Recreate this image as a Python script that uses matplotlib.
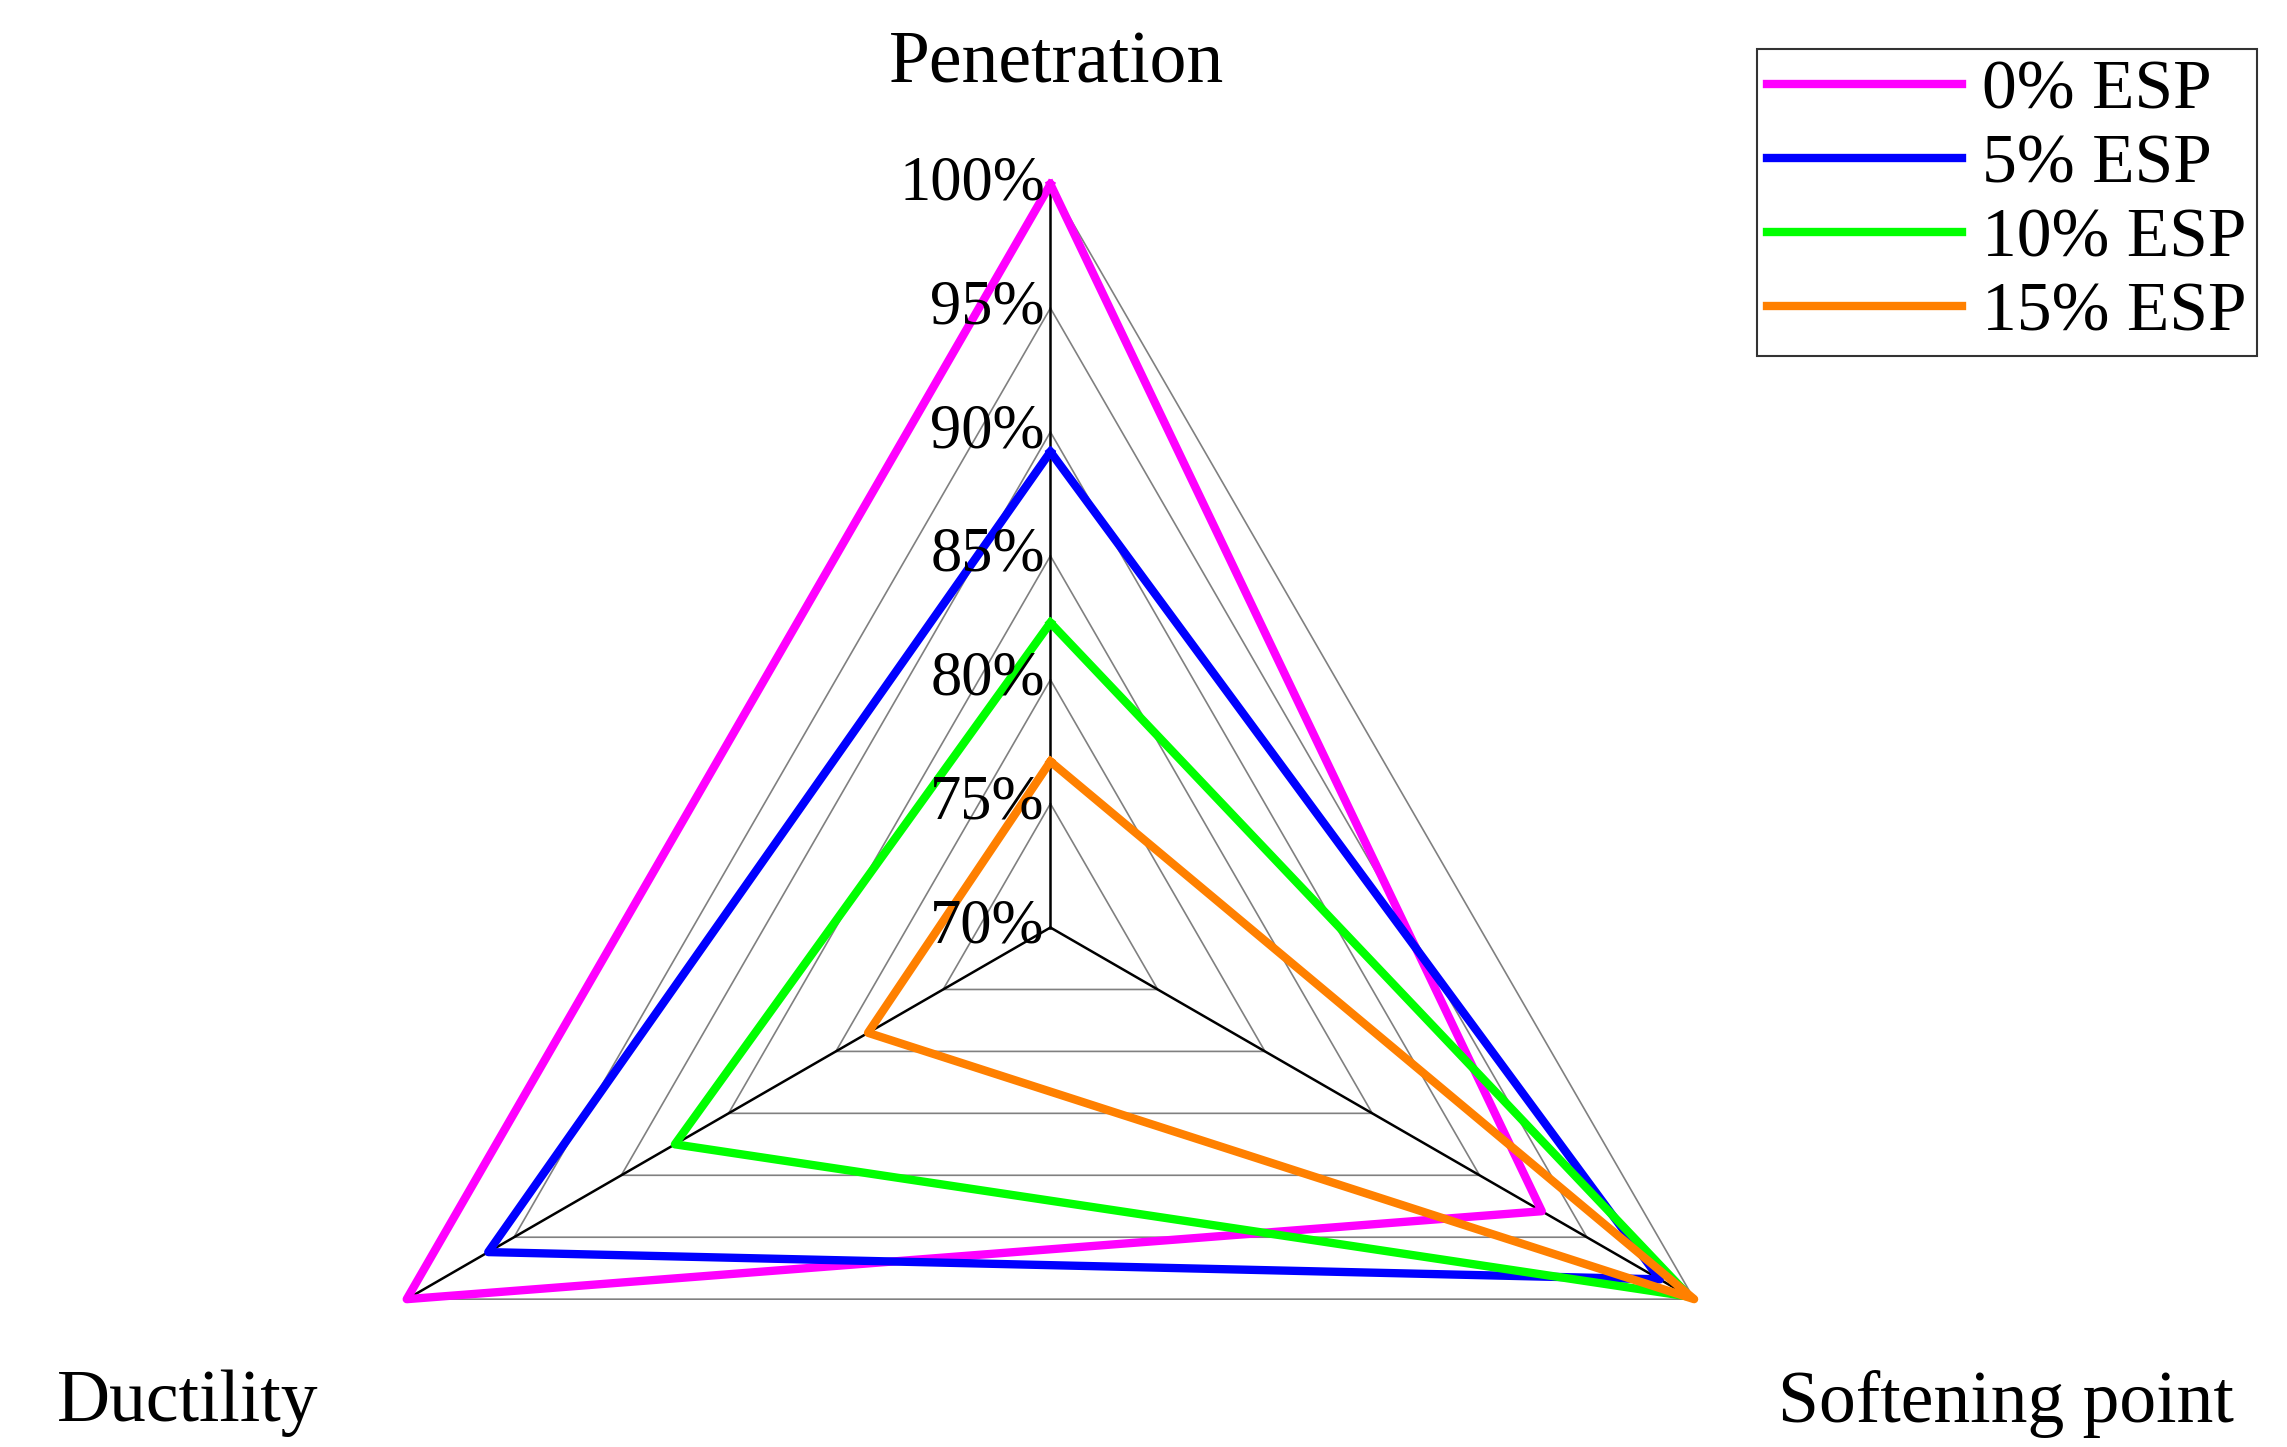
import numpy as np
import matplotlib
matplotlib.use("Agg")
import matplotlib.pyplot as plt
from matplotlib.lines import Line2D

categories = ["Penetration", "Softening point", "Ductility"]
series_names = ["0% ESP", "5% ESP", "10% ESP", "15% ESP"]
esp0 = [100.0, 92.9, 100.0]
esp5 = [89.2, 98.4, 96.2]
esp10 = [82.3, 99.8, 87.5]
esp15 = [76.7, 100.0, 78.5]
series = [esp0, esp5, esp10, esp15]
colors = ["#FF00FF", "#0000FF", "#00FF00", "#FF8000"]
ticks = [70, 75, 80, 85, 90, 95, 100]
tick_labels = ["70%", "75%", "80%", "85%", "90%", "95%", "100%"]

plt.rcParams["font.family"] = ["Liberation Serif", "DejaVu Serif"]
fig = plt.figure(figsize=(22.87, 14.47), dpi=100)
ax = fig.add_axes([0.1343, -0.155, 0.65, 1.028], projection="polar")
ax.set_theta_offset(np.pi / 2)
ax.set_theta_direction(-1)
ax.set_ylim(70, 100)
ax.grid(False)
ax.spines["polar"].set_visible(False)
ax.set_xticks([])
ax.set_yticks([])
ax.patch.set_alpha(0)

ang = np.array([0, 2 * np.pi / 3, 4 * np.pi / 3])
angc = np.append(ang, ang[0])
for t in ticks[1:]:
    ax.plot(angc, [t] * 4, color="#808080", lw=1.2, zorder=1)
for a in ang:
    ax.plot([a, a], [70, 100], color="black", lw=1.8, zorder=2)

for vals, c in zip(series, colors):
    ax.plot(angc, vals + [vals[0]], color=c, lw=6, zorder=3, clip_on=False)

for t, lab in zip(ticks, tick_labels):
    ax.annotate(lab, xy=(0, t), xytext=(-4, 0), textcoords="offset points",
                ha="right", va="center", fontsize=45, zorder=4)

fig.text(0.462, 0.955, categories[0], ha="center", va="center", fontsize=53)
fig.text(0.877, 0.03, categories[1], ha="center", va="center", fontsize=53)
fig.text(0.082, 0.03, categories[2], ha="center", va="center", fontsize=53)

handles = [Line2D([], [], color=c, lw=6) for c in colors]
leg = fig.legend(handles, series_names, loc="upper right", bbox_to_anchor=(0.987, 0.966),
                 fontsize=50, frameon=True, fancybox=False, edgecolor="black",
                 handlelength=2.8, handletextpad=0.3, labelspacing=0.15, borderpad=0.15,
                 borderaxespad=0)
leg.get_frame().set_linewidth(1.5)
fig.savefig("out.png", dpi=100)
